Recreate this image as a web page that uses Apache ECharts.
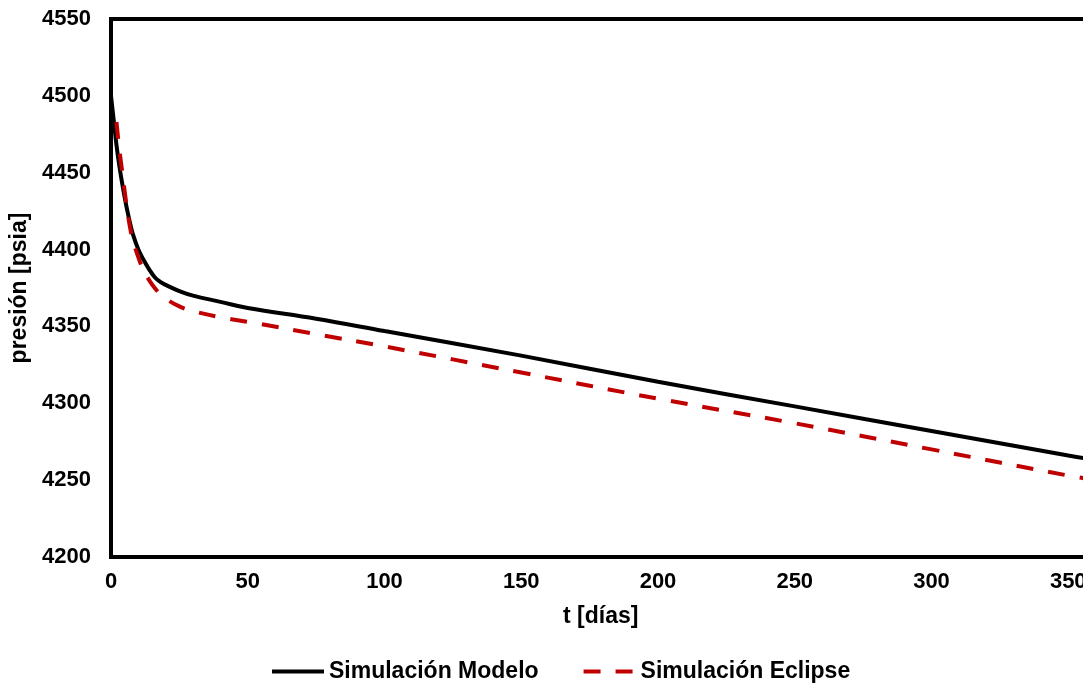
<!DOCTYPE html>
<html>
<head>
<meta charset="utf-8">
<script src="https://cdn.jsdelivr.net/npm/echarts@6/dist/echarts.min.js"></script>
<style>
  html, body { margin: 0; padding: 0; background: #fff; overflow: hidden; }
  #chart { width: 1083px; height: 683px; }
</style>
</head>
<body>
<div id="chart"></div>
<script>
// Pressure decline over time: model vs. Eclipse simulation
const seriesNames = ['Simulación Modelo', 'Simulación Eclipse'];
const xTitle = 't [días]';
const yTitle = 'presión [psia]';

// Simulación Modelo: [t (días), presión (psia)]
const modeloT = [0, 1, 2, 3, 4, 5, 6, 7, 8, 10, 12, 14, 16, 18, 20, 25, 30, 40, 50, 75, 100, 150, 200, 250, 300, 350, 360];
const modeloP = [4500, 4484, 4468, 4455, 4444, 4434, 4425, 4417, 4410, 4400, 4393, 4387, 4382, 4379, 4377, 4373, 4370, 4366, 4362, 4355, 4347, 4331, 4314, 4298, 4282, 4266, 4263];

// Simulación Eclipse: [t (días), presión (psia)]
const eclipseT = [2, 3, 4, 5, 6, 7, 8, 10, 12, 14, 16, 18, 20, 25, 30, 40, 50, 75, 100, 150, 200, 250, 300, 350, 360];
const eclipseP = [4483, 4466, 4452, 4438, 4425, 4414, 4406, 4395, 4386, 4380, 4375, 4371, 4368, 4363, 4360, 4356, 4353, 4345, 4337, 4320, 4303, 4287, 4270, 4253, 4250];

const xTicks = { min: 0, max: 400, interval: 50 };
const yTicks = { min: 4200, max: 4550, interval: 50 };

const font = "'Liberation Sans', Arial, sans-serif";

const zip = (a, b) => a.map((v, i) => [v, b[i]]);
const plain = v => String(v);

const chart = echarts.init(document.getElementById('chart'), null, { renderer: 'canvas' });

chart.setOption({
  animation: false,
  backgroundColor: '#fff',
  grid: {
    left: 111,
    top: 19,
    width: 1094,
    height: 538,
    show: true,
    borderColor: '#000',
    borderWidth: 4,
    containLabel: false,
    outerBoundsMode: 'none'
  },
  // x-axis title placed under the visible part of the axis
  graphic: [{
    type: 'text',
    left: 563,
    top: 605,
    style: {
      text: xTitle,
      fill: '#000',
      font: "bold 23px 'Liberation Sans', Arial, sans-serif"
    }
  }],
  legend: {
    left: 270,
    top: 660,
    padding: 0,
    itemWidth: 52,
    itemHeight: 14,
    itemGap: 43,
    itemStyle: { opacity: 0 },
    lineStyle: { width: 4 },
    textStyle: { fontFamily: font, fontWeight: 'bold', fontSize: 23, color: '#000' },
    data: seriesNames
  },
  xAxis: {
    type: 'value',
    min: xTicks.min,
    max: xTicks.max,
    interval: xTicks.interval,
    axisLine: { show: true, lineStyle: { color: '#000', width: 4 } },
    axisTick: { show: false },
    splitLine: { show: false },
    axisLabel: { margin: 14, fontFamily: font, fontWeight: 'bold', fontSize: 22, color: '#000', formatter: plain }
  },
  yAxis: {
    type: 'value',
    min: yTicks.min,
    max: yTicks.max,
    interval: yTicks.interval,
    name: yTitle,
    nameLocation: 'middle',
    nameGap: 72,
    nameRotate: 90,
    nameTextStyle: { fontFamily: font, fontWeight: 'bold', fontSize: 23, color: '#000' },
    axisLine: { show: true, lineStyle: { color: '#000', width: 4 } },
    axisTick: { show: false },
    splitLine: { show: false },
    axisLabel: { margin: 20, fontFamily: font, fontWeight: 'bold', fontSize: 22, color: '#000', formatter: plain }
  },
  series: [
    {
      name: seriesNames[0],
      type: 'line',
      data: zip(modeloT, modeloP),
      symbol: 'none',
      smooth: 0.4,
      clip: true,
      itemStyle: { color: '#000' },
      lineStyle: { color: '#000', width: 4 },
      z: 3
    },
    {
      name: seriesNames[1],
      type: 'line',
      data: zip(eclipseT, eclipseP),
      symbol: 'none',
      smooth: 0.4,
      clip: true,
      itemStyle: { color: '#c00000' },
      lineStyle: { color: '#c00000', width: 4, type: [17, 15] },
      z: 4
    }
  ]
});
</script>
</body>
</html>
